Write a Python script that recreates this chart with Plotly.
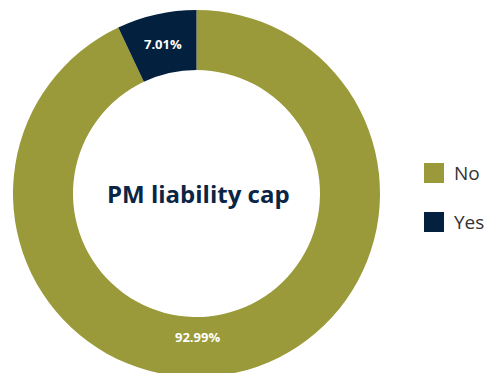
import plotly.graph_objects as go

# Survey answers for the PM liability cap question
labels = ["No", "Yes"]
shares = [92.99, 7.01]
colors = ["#9A9A3A", "#03213F"]
center_title = "PM liability cap"

W, VIEW_H = 488, 373
H = 378  # ring runs slightly past the visible bottom edge
FONT = "Open Sans"


def py(px):
    """Pixel offset from the top -> paper y."""
    return 1 - px / H


fig = go.Figure()
fig.add_trace(go.Pie(
    labels=labels,
    values=shares,
    sort=False,
    direction="clockwise",
    rotation=0,
    hole=0.673,
    marker=dict(colors=colors, line=dict(width=0)),
    # the large slice gets its label placed at the bottom of the ring below
    texttemplate=["", "%{value:.2f}%"],
    textposition="inside",
    insidetextorientation="horizontal",
    textfont=dict(family=FONT, size=13, color="white", weight="bold"),
    hoverinfo="label+value",
    showlegend=False,
    domain=dict(x=[13 / W, 380 / W], y=[py(377), py(10)]),
))

fig.add_annotation(
    x=197 / W, y=py(348), xref="paper", yref="paper",
    text=f"{shares[0]:.2f}%", showarrow=False,
    font=dict(family=FONT, size=13, color="white", weight="bold"),
)

# centre caption
fig.add_annotation(
    x=198 / W, y=py(193), xref="paper", yref="paper",
    text=center_title, showarrow=False,
    font=dict(family=FONT, size=24, color="#0B2545", weight="bold"),
)

# legend: swatch + label per category
for i, (lab, col) in enumerate(zip(labels, colors)):
    top = 163 + i * 49
    fig.add_shape(
        type="rect", xref="paper", yref="paper",
        x0=424 / W, x1=444 / W, y0=py(top + 20), y1=py(top),
        fillcolor=col, line=dict(width=0),
    )
    fig.add_annotation(
        x=452 / W, y=py(top + 10), xref="paper", yref="paper",
        xanchor="left", yanchor="middle", text=lab, showarrow=False,
        font=dict(family=FONT, size=19, color="#333333"),
    )

fig.update_layout(
    width=W, height=H, autosize=False,
    margin=dict(l=0, r=0, t=0, b=0),
    paper_bgcolor="white", plot_bgcolor="white",
)

fig.write_html(
    "out.html",
    post_script="document.documentElement.style.overflow='hidden';"
                "document.body.style.overflow='hidden';",
)
